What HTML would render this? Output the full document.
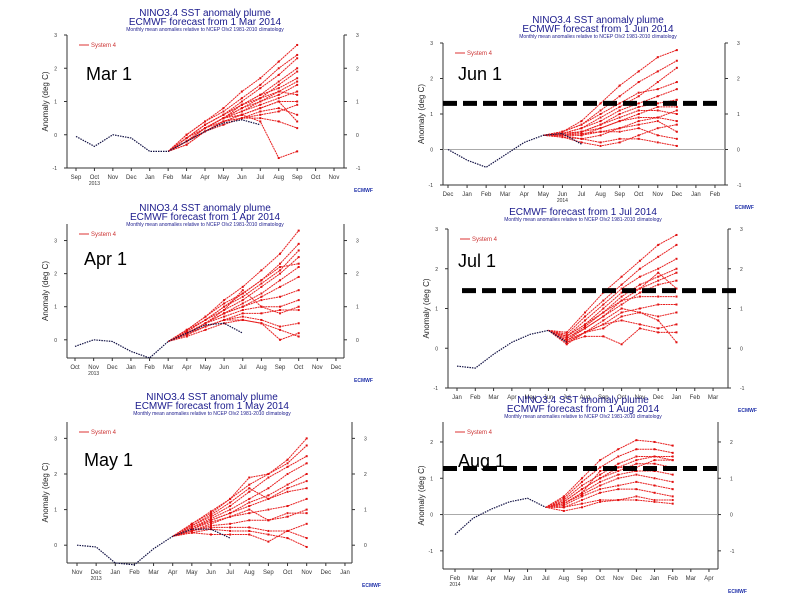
<!DOCTYPE html>
<html><head><meta charset="utf-8"><style>
body{margin:0;background:#fff}
svg{display:block;font-family:"Liberation Sans",sans-serif}
</style></head><body>
<svg id="c" width="794" height="595" viewBox="0 0 794 595" xmlns="http://www.w3.org/2000/svg"></svg>
<script>
// ---- data ----
const marMonths=["Sep","Oct","Nov","Dec","Jan","Feb","Mar","Apr","May","Jun","Jul","Aug","Sep","Oct","Nov"];
const marObs=[-0.05,-0.35,0.0,-0.1,-0.5,-0.5,-0.2,0.1,0.35,0.45,0.3];
const marMembers=[
[-0.2,0.2,0.5,0.8,1.1,1.5,1.9],[-0.1,0.3,0.6,1.0,1.4,1.8,2.3],[0.0,0.4,0.8,1.3,1.7,2.2,2.7],
[-0.2,0.2,0.5,0.7,0.9,1.1,1.3],[-0.3,0.1,0.4,0.6,0.8,1.0,1.0],[-0.2,0.2,0.5,0.8,1.0,1.2,1.5],
[-0.1,0.3,0.6,0.9,1.2,1.4,1.7],[-0.2,0.1,0.4,0.5,0.7,0.8,0.6],[-0.3,0.1,0.3,0.5,0.6,0.7,0.9],
[-0.2,0.2,0.5,0.9,1.2,1.6,2.0],[-0.1,0.3,0.6,0.9,1.1,1.3,1.2],[-0.2,0.2,0.4,0.6,0.8,1.0,0.4],
[-0.2,0.1,0.4,0.5,0.5,0.4,0.2],[-0.1,0.2,0.5,0.7,1.0,1.3,1.6],[-0.2,0.2,0.5,0.6,0.4,-0.7,-0.5],
[0.0,0.4,0.7,1.1,1.5,2.0,2.4]];
const junMonths=["Dec","Jan","Feb","Mar","Apr","May","Jun","Jul","Aug","Sep","Oct","Nov","Dec","Jan","Feb"];
const junObs=[0,-0.3,-0.5,-0.15,0.2,0.4,0.45,0.15];
const junMembers=[
[0.5,0.8,1.3,1.8,2.2,2.6,2.8],[0.5,0.7,1.1,1.5,1.9,2.2,2.5],[0.45,0.6,0.9,1.2,1.5,1.9,2.3],
[0.4,0.5,0.7,1.0,1.2,1.3,1.4],[0.4,0.4,0.6,0.8,1.0,1.2,1.2],[0.45,0.5,0.7,0.9,1.1,1.1,1.0],
[0.4,0.3,0.4,0.6,0.8,0.9,0.8],[0.35,0.2,0.1,0.2,0.4,0.6,0.7],[0.45,0.6,0.8,1.1,1.3,1.5,1.7],
[0.4,0.4,0.5,0.5,0.6,0.4,0.3],[0.35,0.3,0.2,0.3,0.3,0.2,0.1],[0.5,0.7,1.0,1.3,1.6,1.7,1.9],
[0.45,0.5,0.6,0.8,0.9,0.9,1.1],[0.4,0.45,0.5,0.6,0.7,0.8,0.5]];
const aprMonths=["Oct","Nov","Dec","Jan","Feb","Mar","Apr","May","Jun","Jul","Aug","Sep","Oct","Nov","Dec"];
const aprObs=[-0.2,0.0,-0.05,-0.35,-0.55,-0.05,0.2,0.45,0.5,0.2];
const aprMembers=[
[0.3,0.7,1.2,1.6,2.1,2.6,3.3],[0.3,0.6,1.0,1.4,1.8,2.3,2.9],[0.25,0.6,0.9,1.2,1.6,2.0,2.5],
[0.2,0.5,0.8,1.1,1.4,1.8,2.2],[0.2,0.5,0.8,1.0,1.2,1.3,1.5],[0.2,0.5,0.7,0.9,1.0,1.0,1.2],
[0.15,0.4,0.6,0.8,0.8,0.9,0.9],[0.2,0.5,0.9,1.5,1.0,0.8,1.0],[0.15,0.4,0.6,0.7,0.6,0.4,0.5],
[0.1,0.3,0.5,0.6,0.5,0.0,0.2],[0.25,0.6,1.0,1.3,1.7,2.1,2.7],[0.2,0.4,0.6,0.6,0.5,0.3,0.1],
[0.2,0.5,0.8,1.0,1.3,1.6,1.9],[0.3,0.7,1.1,1.4,1.8,2.2,2.3]];
const julMonths=["Jan","Feb","Mar","Apr","May","Jun","Jul","Aug","Sep","Oct","Nov","Dec","Jan","Feb","Mar"];
const julObs=[-0.45,-0.5,-0.15,0.15,0.35,0.45,0.15];
const julMembers=[
[0.4,0.9,1.4,1.8,2.2,2.6,2.85],[0.35,0.8,1.2,1.6,2.0,2.3,2.6],[0.3,0.7,1.1,1.5,1.8,2.0,2.25],
[0.3,0.6,0.9,1.3,1.6,1.8,2.0],[0.25,0.5,0.8,1.1,1.4,1.6,1.7],[0.2,0.5,0.8,1.2,1.3,1.3,1.3],
[0.2,0.4,0.6,0.9,1.0,1.1,1.1],[0.15,0.4,0.5,0.8,0.9,0.8,0.9],[0.2,0.4,0.6,0.7,0.6,0.5,0.6],
[0.15,0.3,0.3,0.1,0.5,0.4,0.4],[0.1,0.4,0.7,1.0,0.9,0.7,0.15],[0.3,0.6,1.0,1.4,1.5,1.9,1.5],
[0.25,0.55,0.9,1.2,1.5,1.7,1.9]];
const mayMonths=["Nov","Dec","Jan","Feb","Mar","Apr","May","Jun","Jul","Aug","Sep","Oct","Nov","Dec","Jan"];
const mayObs=[0.0,-0.05,-0.5,-0.55,-0.1,0.25,0.45,0.45,0.2];
const mayMembers=[
[0.6,0.95,1.3,1.9,2.0,2.4,3.0],[0.6,0.9,1.3,1.7,2.0,2.3,2.8],[0.55,0.8,1.1,1.5,1.9,2.2,2.5],
[0.5,0.75,1.0,1.3,1.6,2.0,2.3],[0.5,0.7,0.9,1.2,1.4,1.7,2.0],[0.45,0.7,0.9,1.1,1.3,1.5,1.6],
[0.4,0.6,0.8,0.9,1.0,1.1,1.3],[0.4,0.55,0.6,0.7,0.7,0.9,0.9],[0.4,0.5,0.5,0.5,0.4,0.4,0.6],
[0.35,0.3,0.3,0.3,0.1,0.4,0.2],[0.35,0.45,0.4,0.4,0.3,0.2,-0.05],[0.45,0.65,0.8,1.0,0.7,0.8,1.0],
[0.55,0.85,1.2,1.6,1.3,1.6,1.8]];
const augMonths=["Feb","Mar","Apr","May","Jun","Jul","Aug","Sep","Oct","Nov","Dec","Jan","Feb","Mar","Apr"];
const augObs=[-0.55,-0.1,0.15,0.35,0.45,0.2];
const augMembers=[
[0.5,1.0,1.5,1.8,2.05,2.0,1.9],[0.45,0.9,1.3,1.6,1.8,1.8,1.7],[0.4,0.8,1.1,1.4,1.6,1.6,1.5],
[0.35,0.7,1.0,1.2,1.4,1.4,1.3],[0.3,0.6,0.9,1.1,1.2,1.2,1.1],[0.3,0.55,0.8,1.0,1.1,1.0,0.9],
[0.25,0.5,0.7,0.8,0.9,0.8,0.7],[0.2,0.4,0.6,0.7,0.7,0.6,0.5],[0.2,0.3,0.4,0.4,0.5,0.4,0.4],
[0.1,0.2,0.35,0.4,0.4,0.35,0.3],[0.3,0.6,1.2,1.3,1.3,1.5,1.5],[0.35,0.7,1.0,1.3,1.5,1.6,1.6]];
const yTicks=[-1,0,1,2,3];
const thresholds={jun:1.3,jul:1.45,aug:1.27};

// ---- layout (positions only) ----
const panels=[
 {id:"mar",label:"Mar 1",fr:[67,35,344,168],y:[-1,3],x0:76,dx:18.43,months:marMonths,obs:marObs,start:5,mem:marMembers,zero:false,
  title:[205,16],lab:[86,80],year:"2013",yearX:1},
 {id:"jun",label:"Jun 1",fr:[443,43,725,185],y:[-1,3],x0:448,dx:19.07,months:junMonths,obs:junObs,start:5,mem:junMembers,zero:true,
  title:[598,23],lab:[458,80],year:"2014",yearX:6,thr:thresholds.jun,thrX:[443,720]},
 {id:"apr",label:"Apr 1",fr:[67,224,344,358],y:[-0.55,3.5],x0:75,dx:18.64,months:aprMonths,obs:aprObs,start:5,mem:aprMembers,zero:false,
  title:[205,211],lab:[84,265],year:"2013",yearX:1},
 {id:"jul",label:"Jul 1",fr:[448,229,728,388],y:[-1,3],x0:457,dx:18.29,months:julMonths,obs:julObs,start:5,mem:julMembers,zero:false,
  title:[583,206],lab:[458,267],thr:thresholds.jul,thrX:[462,737]},
 {id:"may",label:"May 1",fr:[67,422,352,563],y:[-0.5,3.46],x0:77,dx:19.14,months:mayMonths,obs:mayObs,start:5,mem:mayMembers,zero:false,
  title:[212,400],lab:[84,466],year:"2013",yearX:1},
 {id:"aug",label:"Aug 1",fr:[443,422,718,569],y:[-1.5,2.55],x0:455,dx:18.14,months:augMonths,obs:augObs,start:5,mem:augMembers,zero:true,
  title:[583,403],lab:[458,467],year:"2014",yearX:0,thr:thresholds.aug,thrX:[443,718]}
];
const NS="http://www.w3.org/2000/svg";
const svg=document.getElementById("c");
function mk(tag,attrs,parent){const e=document.createElementNS(NS,tag);for(const k in attrs)e.setAttribute(k,attrs[k]);(parent||svg).appendChild(e);return e;}
function txt(s,attrs,parent){const e=mk("text",attrs,parent);e.textContent=s;return e;}

panels.forEach(p=>{
  const g=mk("g",{});
  
  
  const [L,T,R,B]=p.fr;
  const ys=v=>B-(v-p.y[0])/(p.y[1]-p.y[0])*(B-T);
  const xs=i=>p.x0+i*p.dx;
  const titleBlue="#1a1a8c";
  if(p.id!=="jul"){
    const t1=txt("NINO3.4 SST anomaly plume",{x:p.title[0],y:p.title[1],"font-size":10,fill:titleBlue,"text-anchor":"middle"},g);
    
  }
  const mon={mar:"Mar",jun:"Jun",apr:"Apr",jul:"Jul",may:"May",aug:"Aug"}[p.id];
  const t2=txt("ECMWF forecast from 1 "+mon+" 2014",{x:p.title[0],y:p.title[1]+9,"font-size":10,fill:titleBlue,"text-anchor":"middle"},g);
  
  const t3=txt("Monthly mean anomalies relative to NCEP OIv2 1981-2010 climatology",{x:p.title[0],y:p.title[1]+15,"font-size":5,fill:titleBlue,"text-anchor":"middle"},g);
  
  mk("line",{x1:L,y1:T,x2:L,y2:B,stroke:"#333","stroke-width":1},g);
  mk("line",{x1:R,y1:T,x2:R,y2:B,stroke:"#333","stroke-width":1},g);
  mk("line",{x1:L,y1:B,x2:R,y2:B,stroke:"#333","stroke-width":1},g);
  if(p.zero) mk("line",{x1:L,y1:ys(0),x2:R,y2:ys(0),stroke:"#aaa","stroke-width":1},g);
  yTicks.forEach(v=>{
    if(v<p.y[0]-0.01||v>p.y[1]+0.01)return;
    const y=ys(v);
    mk("line",{x1:L-3,y1:y,x2:L,y2:y,stroke:"#333"},g);
    mk("line",{x1:R,y1:y,x2:R+3,y2:y,stroke:"#333"},g);
    const a=txt(String(v),{x:L-10,y:y+2,"font-size":5,fill:"#333","text-anchor":"end"},g);
    
    const b=txt(String(v),{x:R+12,y:y+2,"font-size":5,fill:"#333","text-anchor":"start"},g);
    
  });
  const yl=txt("Anomaly (deg C)",{x:0,y:0,"font-size":8,fill:"#222","text-anchor":"middle",transform:`translate(${L-19},${(T+B)/2}) rotate(-90)`},g);
  
  p.months.forEach((m,i)=>{
    const x=xs(i);
    mk("line",{x1:x,y1:B,x2:x,y2:B+3,stroke:"#333"},g);
    const t=txt(m,{x:x,y:B+11,"font-size":6,fill:"#333","text-anchor":"middle"},g);
    
  });
  if(p.year){const yt=txt(p.year,{x:xs(p.yearX),y:B+17,"font-size":5,fill:"#333","text-anchor":"middle"},g);
    }
  mk("line",{x1:L+12,y1:T+10,x2:L+22,y2:T+10,stroke:"#d33","stroke-width":1},g);
  const lg=txt("System 4",{x:L+24,y:T+12,"font-size":6,fill:"#c33"},g);
  
  p.mem.forEach(arr=>{
    let pts=[[xs(p.start),ys(p.obs[p.start])]];
    arr.forEach((v,j)=>pts.push([xs(p.start+1+j),ys(v)]));
    const pl=mk("polyline",{points:pts.map(q=>q.join(",")).join(" "),fill:"none",stroke:"#e82020","stroke-width":1,"stroke-dasharray":"2 0.6"},g);
    
    
    pts.slice(1).forEach(q=>mk("rect",{x:q[0]-1,y:q[1]-1,width:2,height:2,fill:"#e01010"},g));
  });
  const op=mk("polyline",{points:p.obs.map((v,i)=>xs(i)+","+ys(v)).join(" "),fill:"none",stroke:"#111144","stroke-width":1.2,"stroke-dasharray":"1.5 1"},g);
  
  
  if(p.thr!==undefined){
    const th=mk("line",{x1:p.thrX[0],y1:ys(p.thr),x2:p.thrX[1],y2:ys(p.thr),stroke:"#000","stroke-width":5,"stroke-dasharray":"14 6"},g);
    
    
  }
  const bl=txt(p.label,{x:p.lab[0],y:p.lab[1],"font-size":18,fill:"#000"},g);
  
  const lo=txt("ECMWF",{x:R+10,y:B+24,"font-size":5,"font-weight":"bold",fill:"#2233aa"},g);
  
});
</script>
</body></html>
